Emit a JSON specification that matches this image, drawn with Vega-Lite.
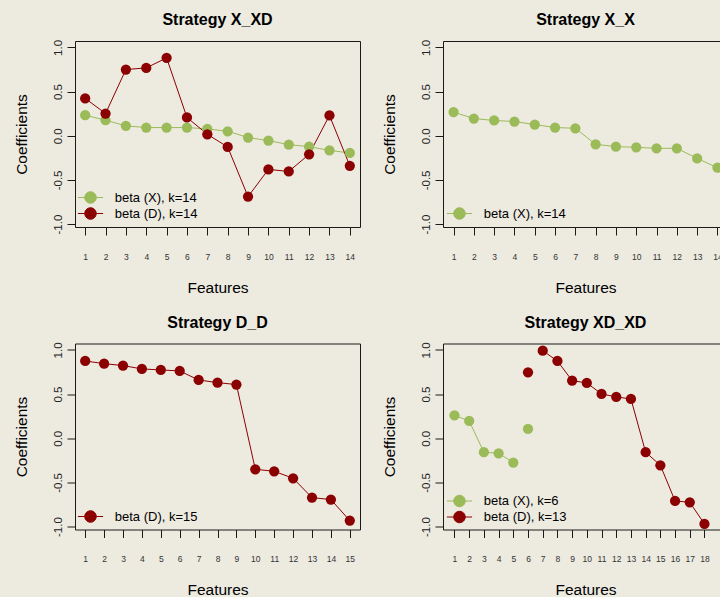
{
  "$schema": "https://vega.github.io/schema/vega-lite/v6.json",
  "background": "#EDEAE0",
  "padding": {"left": 13, "top": 11, "right": 0, "bottom": 0},
  "bounds": "flush",
  "columns": 2,
  "spacing": {"row": 116.5, "column": 83},
  "data": {"values": [
    {"panel": "X_XD", "series": "beta (X), k=14", "seg": "a", "feature": 1, "value": 0.233},
    {"panel": "X_XD", "series": "beta (X), k=14", "seg": "a", "feature": 2, "value": 0.176},
    {"panel": "X_XD", "series": "beta (X), k=14", "seg": "a", "feature": 3, "value": 0.112},
    {"panel": "X_XD", "series": "beta (X), k=14", "seg": "a", "feature": 4, "value": 0.093},
    {"panel": "X_XD", "series": "beta (X), k=14", "seg": "a", "feature": 5, "value": 0.093},
    {"panel": "X_XD", "series": "beta (X), k=14", "seg": "a", "feature": 6, "value": 0.093},
    {"panel": "X_XD", "series": "beta (X), k=14", "seg": "a", "feature": 7, "value": 0.078},
    {"panel": "X_XD", "series": "beta (X), k=14", "seg": "a", "feature": 8, "value": 0.051},
    {"panel": "X_XD", "series": "beta (X), k=14", "seg": "a", "feature": 9, "value": -0.02},
    {"panel": "X_XD", "series": "beta (X), k=14", "seg": "a", "feature": 10, "value": -0.055},
    {"panel": "X_XD", "series": "beta (X), k=14", "seg": "a", "feature": 11, "value": -0.1},
    {"panel": "X_XD", "series": "beta (X), k=14", "seg": "a", "feature": 12, "value": -0.124},
    {"panel": "X_XD", "series": "beta (X), k=14", "seg": "a", "feature": 13, "value": -0.165},
    {"panel": "X_XD", "series": "beta (X), k=14", "seg": "a", "feature": 14, "value": -0.195},
    {"panel": "X_XD", "series": "beta (D), k=14", "seg": "a", "feature": 1, "value": 0.423},
    {"panel": "X_XD", "series": "beta (D), k=14", "seg": "a", "feature": 2, "value": 0.252},
    {"panel": "X_XD", "series": "beta (D), k=14", "seg": "a", "feature": 3, "value": 0.75},
    {"panel": "X_XD", "series": "beta (D), k=14", "seg": "a", "feature": 4, "value": 0.768},
    {"panel": "X_XD", "series": "beta (D), k=14", "seg": "a", "feature": 5, "value": 0.882},
    {"panel": "X_XD", "series": "beta (D), k=14", "seg": "a", "feature": 6, "value": 0.207},
    {"panel": "X_XD", "series": "beta (D), k=14", "seg": "a", "feature": 7, "value": 0.017},
    {"panel": "X_XD", "series": "beta (D), k=14", "seg": "a", "feature": 8, "value": -0.127},
    {"panel": "X_XD", "series": "beta (D), k=14", "seg": "a", "feature": 9, "value": -0.689},
    {"panel": "X_XD", "series": "beta (D), k=14", "seg": "a", "feature": 10, "value": -0.381},
    {"panel": "X_XD", "series": "beta (D), k=14", "seg": "a", "feature": 11, "value": -0.404},
    {"panel": "X_XD", "series": "beta (D), k=14", "seg": "a", "feature": 12, "value": -0.21},
    {"panel": "X_XD", "series": "beta (D), k=14", "seg": "a", "feature": 13, "value": 0.23},
    {"panel": "X_XD", "series": "beta (D), k=14", "seg": "a", "feature": 14, "value": -0.34},
    {"panel": "X_X", "series": "beta (X), k=14", "seg": "a", "feature": 1, "value": 0.268},
    {"panel": "X_X", "series": "beta (X), k=14", "seg": "a", "feature": 2, "value": 0.195},
    {"panel": "X_X", "series": "beta (X), k=14", "seg": "a", "feature": 3, "value": 0.173},
    {"panel": "X_X", "series": "beta (X), k=14", "seg": "a", "feature": 4, "value": 0.161},
    {"panel": "X_X", "series": "beta (X), k=14", "seg": "a", "feature": 5, "value": 0.127},
    {"panel": "X_X", "series": "beta (X), k=14", "seg": "a", "feature": 6, "value": 0.093},
    {"panel": "X_X", "series": "beta (X), k=14", "seg": "a", "feature": 7, "value": 0.085},
    {"panel": "X_X", "series": "beta (X), k=14", "seg": "a", "feature": 8, "value": -0.097},
    {"panel": "X_X", "series": "beta (X), k=14", "seg": "a", "feature": 9, "value": -0.123},
    {"panel": "X_X", "series": "beta (X), k=14", "seg": "a", "feature": 10, "value": -0.131},
    {"panel": "X_X", "series": "beta (X), k=14", "seg": "a", "feature": 11, "value": -0.142},
    {"panel": "X_X", "series": "beta (X), k=14", "seg": "a", "feature": 12, "value": -0.142},
    {"panel": "X_X", "series": "beta (X), k=14", "seg": "a", "feature": 13, "value": -0.256},
    {"panel": "X_X", "series": "beta (X), k=14", "seg": "a", "feature": 14, "value": -0.362},
    {"panel": "D_D", "series": "beta (D), k=15", "seg": "a", "feature": 1, "value": 0.875},
    {"panel": "D_D", "series": "beta (D), k=15", "seg": "a", "feature": 2, "value": 0.845},
    {"panel": "D_D", "series": "beta (D), k=15", "seg": "a", "feature": 3, "value": 0.823},
    {"panel": "D_D", "series": "beta (D), k=15", "seg": "a", "feature": 4, "value": 0.785},
    {"panel": "D_D", "series": "beta (D), k=15", "seg": "a", "feature": 5, "value": 0.774},
    {"panel": "D_D", "series": "beta (D), k=15", "seg": "a", "feature": 6, "value": 0.762},
    {"panel": "D_D", "series": "beta (D), k=15", "seg": "a", "feature": 7, "value": 0.66},
    {"panel": "D_D", "series": "beta (D), k=15", "seg": "a", "feature": 8, "value": 0.63},
    {"panel": "D_D", "series": "beta (D), k=15", "seg": "a", "feature": 9, "value": 0.608},
    {"panel": "D_D", "series": "beta (D), k=15", "seg": "a", "feature": 10, "value": -0.351},
    {"panel": "D_D", "series": "beta (D), k=15", "seg": "a", "feature": 11, "value": -0.374},
    {"panel": "D_D", "series": "beta (D), k=15", "seg": "a", "feature": 12, "value": -0.453},
    {"panel": "D_D", "series": "beta (D), k=15", "seg": "a", "feature": 13, "value": -0.672},
    {"panel": "D_D", "series": "beta (D), k=15", "seg": "a", "feature": 14, "value": -0.694},
    {"panel": "D_D", "series": "beta (D), k=15", "seg": "a", "feature": 15, "value": -0.932},
    {"panel": "XD_XD", "series": "beta (X), k=6", "seg": "a", "feature": 1, "value": 0.26},
    {"panel": "XD_XD", "series": "beta (X), k=6", "seg": "a", "feature": 2, "value": 0.196},
    {"panel": "XD_XD", "series": "beta (X), k=6", "seg": "a", "feature": 3, "value": -0.158},
    {"panel": "XD_XD", "series": "beta (X), k=6", "seg": "a", "feature": 4, "value": -0.17},
    {"panel": "XD_XD", "series": "beta (X), k=6", "seg": "a", "feature": 5, "value": -0.275},
    {"panel": "XD_XD", "series": "beta (X), k=6", "seg": "b", "feature": 6, "value": 0.106},
    {"panel": "XD_XD", "series": "beta (D), k=13", "seg": "a", "feature": 6, "value": 0.747},
    {"panel": "XD_XD", "series": "beta (D), k=13", "seg": "b", "feature": 7, "value": 0.992},
    {"panel": "XD_XD", "series": "beta (D), k=13", "seg": "b", "feature": 8, "value": 0.875},
    {"panel": "XD_XD", "series": "beta (D), k=13", "seg": "b", "feature": 9, "value": 0.653},
    {"panel": "XD_XD", "series": "beta (D), k=13", "seg": "b", "feature": 10, "value": 0.626},
    {"panel": "XD_XD", "series": "beta (D), k=13", "seg": "b", "feature": 11, "value": 0.502},
    {"panel": "XD_XD", "series": "beta (D), k=13", "seg": "b", "feature": 12, "value": 0.468},
    {"panel": "XD_XD", "series": "beta (D), k=13", "seg": "b", "feature": 13, "value": 0.445},
    {"panel": "XD_XD", "series": "beta (D), k=13", "seg": "b", "feature": 14, "value": -0.158},
    {"panel": "XD_XD", "series": "beta (D), k=13", "seg": "b", "feature": 15, "value": -0.306},
    {"panel": "XD_XD", "series": "beta (D), k=13", "seg": "b", "feature": 16, "value": -0.709},
    {"panel": "XD_XD", "series": "beta (D), k=13", "seg": "b", "feature": 17, "value": -0.725},
    {"panel": "XD_XD", "series": "beta (D), k=13", "seg": "b", "feature": 18, "value": -0.97}
  ]},
  "concat": [
    {
      "width": 285, "height": 186,
      "title": "Strategy X_XD",
      "transform": [{"filter": "datum.panel === 'X_XD'"}],
      "encoding": {
        "x": {"field": "feature", "type": "quantitative", "title": "Features",
              "scale": {"domain": [0.5, 14.5], "nice": false, "zero": false},
              "axis": {"values": [1,2,3,4,5,6,7,8,9,10,11,12,13,14]}},
        "y": {"field": "value", "type": "quantitative", "title": "Coefficients",
              "scale": {"domain": [-1.033, 1.073], "nice": false, "zero": false}}
      },
      "layer": [
        {"mark": {"type": "line", "strokeWidth": 1},
         "encoding": {"detail": {"field": "seg"},
           "stroke": {"field": "series", "type": "nominal", "sort": null,
             "scale": {"domain": ["beta (X), k=14", "beta (D), k=14"], "range": ["#9BBB59", "#8B0000"]},
             "legend": {"orient": "none", "legendX": 9, "legendY": 150}}}},
        {"mark": {"type": "circle", "size": 105, "opacity": 1},
         "encoding": {
           "fill": {"field": "series", "type": "nominal", "sort": null,
             "scale": {"domain": ["beta (X), k=14", "beta (D), k=14"], "range": ["#9BBB59", "#8B0000"]},
             "legend": {"orient": "none", "legendX": 9, "legendY": 150}}}}
      ]
    },
    {
      "width": 285, "height": 186,
      "title": "Strategy X_X",
      "transform": [{"filter": "datum.panel === 'X_X'"}],
      "encoding": {
        "x": {"field": "feature", "type": "quantitative", "title": "Features",
              "scale": {"domain": [0.48, 14.52], "nice": false, "zero": false},
              "axis": {"values": [1,2,3,4,5,6,7,8,9,10,11,12,13,14]}},
        "y": {"field": "value", "type": "quantitative", "title": "Coefficients",
              "scale": {"domain": [-1.033, 1.073], "nice": false, "zero": false}}
      },
      "layer": [
        {"mark": {"type": "line", "strokeWidth": 1},
         "encoding": {"detail": {"field": "seg"},
           "stroke": {"field": "series", "type": "nominal", "sort": null,
             "scale": {"domain": ["beta (X), k=14"], "range": ["#9BBB59"]},
             "legend": {"orient": "none", "legendX": 10, "legendY": 166}}}},
        {"mark": {"type": "circle", "size": 105, "opacity": 1},
         "encoding": {
           "fill": {"field": "series", "type": "nominal", "sort": null,
             "scale": {"domain": ["beta (X), k=14"], "range": ["#9BBB59"]},
             "legend": {"orient": "none", "legendX": 10, "legendY": 166}}}}
      ]
    },
    {
      "width": 285, "height": 186,
      "title": "Strategy D_D",
      "transform": [{"filter": "datum.panel === 'D_D'"}],
      "encoding": {
        "x": {"field": "feature", "type": "quantitative", "title": "Features",
              "scale": {"domain": [0.46, 15.54], "nice": false, "zero": false},
              "axis": {"values": [1,2,3,4,5,6,7,8,9,10,11,12,13,14,15]}},
        "y": {"field": "value", "type": "quantitative", "title": "Coefficients",
              "scale": {"domain": [-1.033, 1.073], "nice": false, "zero": false}}
      },
      "layer": [
        {"mark": {"type": "line", "strokeWidth": 1},
         "encoding": {"detail": {"field": "seg"},
           "stroke": {"field": "series", "type": "nominal", "sort": null,
             "scale": {"domain": ["beta (D), k=15"], "range": ["#8B0000"]},
             "legend": {"orient": "none", "legendX": 9, "legendY": 166.5}}}},
        {"mark": {"type": "circle", "size": 105, "opacity": 1},
         "encoding": {
           "fill": {"field": "series", "type": "nominal", "sort": null,
             "scale": {"domain": ["beta (D), k=15"], "range": ["#8B0000"]},
             "legend": {"orient": "none", "legendX": 9, "legendY": 166.5}}}}
      ]
    },
    {
      "width": 285, "height": 186,
      "title": "Strategy XD_XD",
      "transform": [{"filter": "datum.panel === 'XD_XD'"}],
      "encoding": {
        "x": {"field": "feature", "type": "quantitative", "title": "Features",
              "scale": {"domain": [0.22, 19.6], "nice": false, "zero": false},
              "axis": {"values": [1,2,3,4,5,6,7,8,9,10,11,12,13,14,15,16,17,18]}},
        "y": {"field": "value", "type": "quantitative", "title": "Coefficients",
              "scale": {"domain": [-1.033, 1.073], "nice": false, "zero": false}}
      },
      "layer": [
        {"mark": {"type": "line", "strokeWidth": 1},
         "encoding": {"detail": {"field": "seg"},
           "stroke": {"field": "series", "type": "nominal", "sort": null,
             "scale": {"domain": ["beta (X), k=6", "beta (D), k=13"], "range": ["#9BBB59", "#8B0000"]},
             "legend": {"orient": "none", "legendX": 10, "legendY": 151}}}},
        {"mark": {"type": "circle", "size": 105, "opacity": 1},
         "encoding": {
           "fill": {"field": "series", "type": "nominal", "sort": null,
             "scale": {"domain": ["beta (X), k=6", "beta (D), k=13"], "range": ["#9BBB59", "#8B0000"]},
             "legend": {"orient": "none", "legendX": 10, "legendY": 151}}}}
      ]
    }
  ],
  "resolve": {
    "scale": {"fill": "independent", "stroke": "independent", "x": "independent", "y": "independent"},
    "legend": {"fill": "independent", "stroke": "independent"}
  },
  "config": {
    "font": "Liberation Sans",
    "view": {"stroke": "#1a1a1a", "strokeWidth": 1, "fill": null},
    "axis": {
      "grid": false, "domain": false, "tickColor": "#1a1a1a", "tickSize": 8, "tickWidth": 1,
      "labelFont": "Liberation Sans", "titleFont": "Liberation Sans", "titleFontWeight": "normal",
      "titleFontSize": 15.5, "titleColor": "#000", "labelOverlap": false, "labelFlush": false, "labelBound": false
    },
    "axisX": {
      "labelFontSize": 8.5, "labelColor": "#333", "labelAngle": 0, "labelAlign": "center",
      "labelBaseline": "middle", "labelPadding": 21.3, "format": "d",
      "titleX": 142.5, "titleY": 65, "titleBaseline": "alphabetic", "titleAlign": "center", "titleAnchor": null
    },
    "axisY": {
      "labelFontSize": 11.5, "labelColor": "#222", "labelAngle": 270, "labelAlign": "center",
      "labelBaseline": "alphabetic", "labelPadding": 6,
      "values": [-1, -0.5, 0, 0.5, 1],
      "labelExpr": "replace(format(datum.value, '.1f'), '\u2212', '-')",
      "titleX": -49, "titleY": 93, "titleAngle": 270, "titleBaseline": "alphabetic", "titleAlign": "center", "titleAnchor": null
    },
    "title": {
      "fontSize": 16, "fontWeight": "bold", "font": "Liberation Sans", "color": "#000",
      "anchor": "middle", "frame": "group", "baseline": "alphabetic", "offset": 11.2
    },
    "legend": {
      "title": null, "labelFont": "Liberation Sans", "labelFontSize": 13, "labelColor": "#000",
      "labelBaseline": "middle",
      "symbolType": "M-2.1,0H2.1M-0.96,0A0.96,0.96,0,1,0,0.96,0A0.96,0.96,0,1,0,-0.96,0Z",
      "symbolSize": 144, "symbolStrokeWidth": 1, "labelOffset": 17.8, "rowPadding": -1, "padding": 0
    }
  }
}
